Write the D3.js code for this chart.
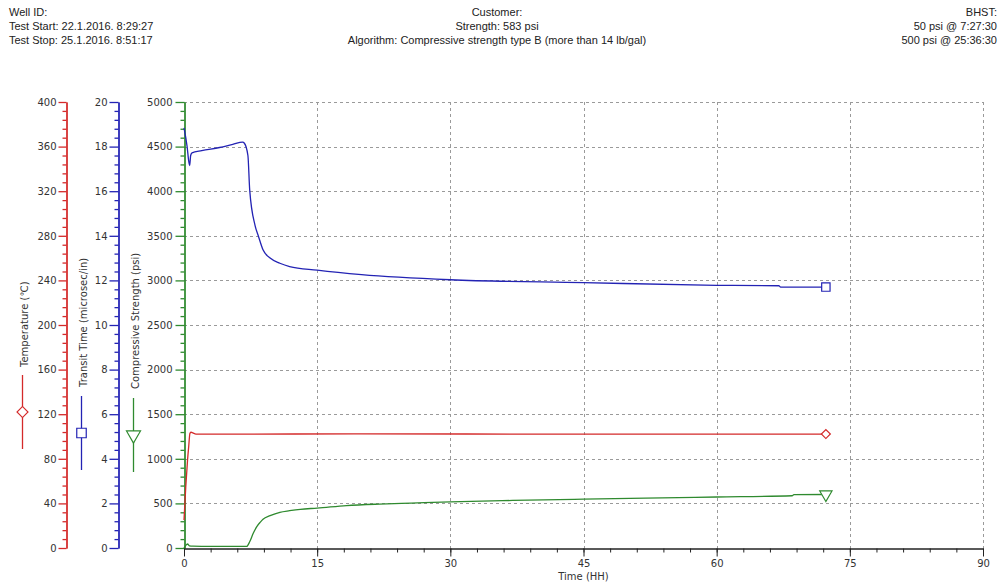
<!DOCTYPE html>
<html>
<head>
<meta charset="utf-8">
<script src="https://cdn.jsdelivr.net/npm/d3@7"></script>
<style>
  body { margin: 0; background: #fff; }
  svg { display: block; }
  .hdr { font-family: "Liberation Sans", Arial, sans-serif; font-size: 11px; fill: #222; }
  .tick text { font-family: "DejaVu Sans", Tahoma, sans-serif; font-size: 10px; fill: #333; }
  .ttl { font-family: "DejaVu Sans", Tahoma, sans-serif; font-size: 10px; fill: #333; }
</style>
</head>
<body>
<script>
// ---- data ----
var headerLeft = ["Well ID:", "Test Start: 22.1.2016. 8:29:27", "Test Stop: 25.1.2016. 8:51:17"];
var headerMid = ["Customer:", "Strength: 583 psi", "Algorithm: Compressive strength type B (more than 14 lb/gal)"];
var headerRight = ["BHST:", "50 psi @ 7:27:30", "500 psi @ 25:36:30"];

var xTicks = [0, 15, 30, 45, 60, 75, 90];
var tempTicks = [0, 40, 80, 120, 160, 200, 240, 280, 320, 360, 400];
var transitTicks = [0, 2, 4, 6, 8, 10, 12, 14, 16, 18, 20];
var strengthTicks = [0, 500, 1000, 1500, 2000, 2500, 3000, 3500, 4000, 4500, 5000];

// temperature (C)
var tempTime = [0, 0.2, 0.4, 0.53, 0.67, 0.8, 1.0, 1.35, 5, 20, 40, 60, 72.3];
var tempValues = [25, 55, 79, 91, 102.9, 103.8, 103.2, 102.2, 102.2, 102.3, 102.2, 102.2, 102.2];

// transit time (microsec/in)
var transitTime = [0, 0.35, 0.55, 0.64, 0.75, 0.9, 2, 4, 5.5, 6.6, 6.8, 7.2, 7.4, 8.0, 8.4, 8.9, 9.7, 10.8, 11.9, 15, 20, 30, 45, 60, 67, 67.2, 72.3];
var transitValues = [18.84, 18.0, 17.3, 17.15, 17.6, 17.72, 17.82, 17.96, 18.1, 18.2, 18.15, 17.6, 16.06, 14.47, 13.96, 13.37, 13.0, 12.77, 12.62, 12.46, 12.26, 12.03, 11.9, 11.78, 11.76, 11.7, 11.7];

// compressive strength (psi)
var strengthTime = [0, 0.2, 0.4, 0.6, 1, 3, 5, 7.06, 7.4, 7.8, 8.2, 8.6, 8.9, 9.7, 10.8, 11.9, 13.1, 15, 18.3, 22, 25.6, 30, 37, 45, 52, 60, 68.5, 68.7, 72.3];
var strengthValues = [0, 30, 45, 25, 20, 18, 18, 18, 70, 165, 240, 290, 322, 362, 400, 418, 434, 447, 475, 492, 503, 517, 533, 548, 560, 572, 586, 598, 600];

var red = "#d42a2a", blue = "#2323b4", green = "#2f8a2f";

var svg = d3.select("body").append("svg").attr("width", 1005).attr("height", 585);

// header
function header(lines, x, anchor) {
    svg.selectAll(null).data(lines).enter().append("text")
        .attr("class", "hdr")
        .attr("x", x)
        .attr("y", function (d, i) { return 16 + i * 14; })
        .attr("text-anchor", anchor)
        .text(function (d) { return d; });
}
header(headerLeft, 9, "start");
header(headerMid, 497, "middle");
header(headerRight, 997, "end");

// scales
var x = d3.scaleLinear().domain([0, 90]).range([184, 983]);
var yStrength = d3.scaleLinear().domain([0, 5000]).range([548, 102]);
var yTemp = d3.scaleLinear().domain([0, 400]).range([548, 102]);
var yTransit = d3.scaleLinear().domain([0, 20]).range([548, 102]);

// grid
var grid = svg.append("g").attr("stroke", "#9a9a9a").attr("stroke-dasharray", "3,3").attr("stroke-width", 1);
grid.selectAll(null).data(strengthTicks.slice(1)).enter().append("line")
    .attr("x1", 184).attr("x2", 983)
    .attr("y1", function (d) { return Math.round(yStrength(d)) + 0.5; })
    .attr("y2", function (d) { return Math.round(yStrength(d)) + 0.5; });
grid.selectAll(null).data(xTicks.slice(1)).enter().append("line")
    .attr("y1", 102).attr("y2", 548)
    .attr("x1", function (d) { return Math.round(x(d)) + 0.5; })
    .attr("x2", function (d) { return Math.round(x(d)) + 0.5; });

// y axes with minor ticks
function yAxis(scale, ticks, step, xpos, color, major, pad) {
    var minor = d3.range(ticks[0], ticks[ticks.length - 1] + step / 2, step)
        .filter(function (v) { return ticks.indexOf(Math.round(v * 1000) / 1000) < 0; });
    var g = svg.append("g").attr("transform", "translate(" + (xpos + 0.5) + ",0)");
    g.call(d3.axisLeft(scale).tickValues(minor).tickSize(4).tickSizeOuter(0).tickFormat(""));
    var g2 = svg.append("g").attr("transform", "translate(" + (xpos + 0.5) + ",0)");
    g2.call(d3.axisLeft(scale).tickValues(ticks).tickSize(major).tickSizeOuter(0)
        .tickPadding(pad).tickFormat(d3.format("d")));
    [g, g2].forEach(function (s) {
        s.select(".domain").attr("stroke", color).attr("stroke-width", 1.3);
        s.selectAll(".tick line").attr("stroke", color).attr("stroke-width", 1.3);
    });
}
yAxis(yTemp, tempTicks, 8, 66, red, 8, 2);
yAxis(yTransit, transitTicks, 0.4, 118, blue, 9, 2);
yAxis(yStrength, strengthTicks, 100, 184, green, 9, 3);

// x axis
var gx = svg.append("g").attr("transform", "translate(0,548.5)");
gx.call(d3.axisBottom(x).tickValues(d3.range(0, 91, 3)).tickSize(4).tickSizeOuter(0).tickFormat(""));
var gx2 = svg.append("g").attr("transform", "translate(0,548.5)");
gx2.call(d3.axisBottom(x).tickValues(xTicks).tickSize(8).tickSizeOuter(0).tickPadding(3));
[gx, gx2].forEach(function (s) {
    s.select(".domain").attr("stroke", "#222");
    s.selectAll(".tick line").attr("stroke", "#222");
});
svg.append("text").attr("class", "ttl").attr("x", x(45)).attr("y", 580)
    .attr("text-anchor", "middle").text("Time (HH)");

// series
var series = [
    { t: tempTime, v: tempValues, y: yTemp, color: red, sym: d3.symbolSquare, rot: " rotate(45)", size: 40, lx: 22, ly: 412, title: "Temperature (\u2103)", tx: 28, ty: 367 },
    { t: transitTime, v: transitValues, y: yTransit, color: blue, sym: d3.symbolSquare, rot: "", size: 70, lx: 81, ly: 433, title: "Transit Time (microsec/in)", tx: 87, ty: 387 },
    { t: strengthTime, v: strengthValues, y: yStrength, color: green, sym: d3.symbolTriangle, rot: " rotate(180)", size: 65, lx: 133, ly: 435, title: "Compressive Strength (psi)", tx: 139, ty: 389 }
];

series.forEach(function (s) {
    var pts = s.t.map(function (t, i) { return [t, s.v[i]]; });
    var line = d3.line()
        .x(function (d) { return x(d[0]); })
        .y(function (d) { return s.y(d[1]); })
        .curve(d3.curveMonotoneX);
    svg.append("path").datum(pts)
        .attr("fill", "none").attr("stroke", s.color).attr("stroke-width", 1.3)
        .attr("d", line);
    var last = pts[pts.length - 1];
    svg.append("path")
        .attr("d", d3.symbol().type(s.sym).size(s.size)())
        .attr("transform", "translate(" + x(last[0]) + "," + s.y(last[1]) + ")" + s.rot)
        .attr("fill", "#fff").attr("stroke", s.color).attr("stroke-width", 1.2);

    // legend mark beside the axis title
    svg.append("line")
        .attr("x1", s.lx + 0.5).attr("x2", s.lx + 0.5)
        .attr("y1", s.ly - 37).attr("y2", s.ly + 37)
        .attr("stroke", s.color).attr("stroke-width", 1.3);
    svg.append("path")
        .attr("d", d3.symbol().type(s.sym).size(s.size + 20)())
        .attr("transform", "translate(" + (s.lx + 0.5) + "," + s.ly + ")" + s.rot)
        .attr("fill", "#fff").attr("stroke", s.color).attr("stroke-width", 1.2);
    svg.append("text").attr("class", "ttl")
        .attr("transform", "translate(" + s.tx + "," + s.ty + ") rotate(-90)")
        .attr("text-anchor", "start")
        .text(s.title);
});
</script>
</body>
</html>
